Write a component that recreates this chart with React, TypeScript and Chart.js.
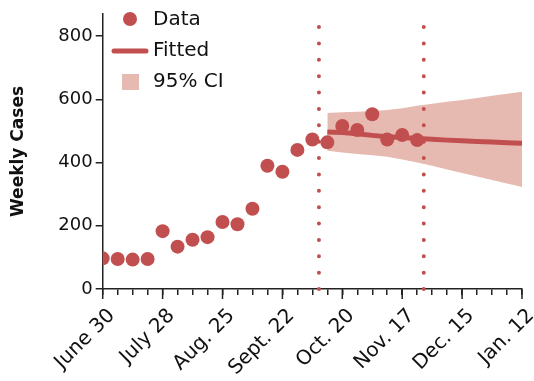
import React, { useEffect, useRef } from "react";
import { Chart, registerables } from "chart.js";

Chart.register(...registerables);

// Week index 0 = June 30; tick labels every four weeks
const tickLabels = ["June 30", "July 28", "Aug. 25", "Sept. 22", "Oct. 20", "Nov. 17", "Dec. 15", "Jan. 12"];

// Observed weekly case counts
const observedWeeks = [0, 1, 2, 3, 4, 5, 6, 7, 8, 9, 10, 11, 12, 13, 14, 15, 16, 17, 18, 19, 20, 21];
const weeklyCases = [97, 95, 93, 95, 183, 134, 156, 164, 212, 205, 254, 390, 371, 440, 473, 464, 516, 503, 553, 473, 487, 471];

// Model fit and its 95% confidence band
const fitWeeks = [15, 16, 17, 18, 19, 20, 21, 22, 23, 24, 25, 26, 27, 28];
const fitted = [497, 495, 491, 486, 482, 479, 476, 474, 471, 469, 467, 465, 463, 461];
const ciUpper = [557, 559, 561, 563, 566, 572, 580, 586, 592, 598, 604, 611, 618, 624];
const ciLower = [437, 432, 427, 423, 418, 410, 400, 390, 378, 367, 356, 345, 334, 323];

// Intervention dates (in weeks from June 30)
const eventWeeks = [14.44, 21.44];

const RED = "#C24F4F";
const BAND = "#E7BAB1";
const FONT = "'DejaVu Sans', sans-serif";

const pts = (xs: number[], ys: number[]) => xs.map((x, i) => ({ x, y: ys[i] }));

const legendPlugin = {
  id: "customLegend",
  afterDraw(chart: any) {
    const ctx = chart.ctx;
    ctx.save();
    ctx.font = `20px ${FONT}`;
    ctx.fillStyle = "#111";
    ctx.textBaseline = "middle";
    ctx.textAlign = "left";
    // Data
    ctx.beginPath();
    ctx.arc(130, 19, 7, 0, Math.PI * 2);
    ctx.fillStyle = RED;
    ctx.fill();
    ctx.fillStyle = "#111";
    ctx.fillText("Data", 153, 20);
    // Fitted
    ctx.beginPath();
    ctx.moveTo(114, 51);
    ctx.lineTo(146, 51);
    ctx.strokeStyle = RED;
    ctx.lineWidth = 5;
    ctx.lineCap = "round";
    ctx.stroke();
    ctx.fillText("Fitted", 153, 51);
    // CI
    ctx.fillStyle = BAND;
    ctx.fillRect(122, 74, 17, 16);
    ctx.fillStyle = "#111";
    ctx.fillText("95% CI", 153, 82);
    ctx.restore();
  },
};

// Longer tick marks under the labelled weeks
const majorTickPlugin = {
  id: "majorTicks",
  afterDraw(chart: any) {
    const xs = chart.scales.x;
    const ctx = chart.ctx;
    const y0 = chart.chartArea.bottom;
    ctx.save();
    ctx.strokeStyle = "#222";
    ctx.lineWidth = 1.5;
    for (let i = 0; i < tickLabels.length; i++) {
      const px = xs.getPixelForValue(i * 4);
      ctx.beginPath();
      ctx.moveTo(px, y0);
      ctx.lineTo(px, y0 + 10);
      ctx.stroke();
    }
    ctx.restore();
  },
};

export default function App() {
  const ref = useRef<HTMLCanvasElement>(null);

  useEffect(() => {
    if (!ref.current) return;
    const eventSets = eventWeeks.map((w) => ({
      type: "line" as const,
      data: [
        { x: w, y: 0 },
        { x: w, y: 880 },
      ],
      borderColor: RED,
      borderWidth: 4,
      borderDash: [0, 16.37],
      borderCapStyle: "round" as const,
      pointRadius: 0,
      fill: false,
      clip: false as any,
    }));

    const chart = new Chart(ref.current, {
      type: "line",
      data: {
        datasets: [
          {
            data: pts(observedWeeks, weeklyCases),
            showLine: false,
            pointRadius: 7,
            pointBackgroundColor: RED,
            pointBorderWidth: 0,
            borderColor: RED,
          },
          {
            data: pts(fitWeeks, fitted),
            borderColor: RED,
            borderWidth: 5,
            pointRadius: 0,
            fill: false,
          },
          ...eventSets,
          {
            data: pts(fitWeeks, ciUpper),
            borderColor: "transparent",
            borderWidth: 0,
            pointRadius: 0,
            backgroundColor: BAND,
            fill: "+1",
          },
          {
            data: pts(fitWeeks, ciLower),
            borderColor: "transparent",
            borderWidth: 0,
            pointRadius: 0,
            fill: false,
          },
        ] as any,
      },
      options: {
        animation: false,
        responsive: false,
        layout: { padding: { top: 14, right: 12, left: 0, bottom: 0 } },
        plugins: { legend: { display: false }, tooltip: { enabled: false } },
        scales: {
          x: {
            type: "linear",
            min: 0,
            max: 28,
            border: { color: "#222", width: 1.5 },
            grid: { drawOnChartArea: false, tickLength: 6, color: "#222", lineWidth: 1.5 },
            ticks: {
              stepSize: 1,
              autoSkip: false,
              minRotation: 45,
              maxRotation: 45,
              padding: 9,
              labelOffset: 9,
              color: "#111",
              font: { family: FONT, size: 20 },
              callback: (v: any) => (Number(v) % 4 === 0 ? tickLabels[Number(v) / 4] : ""),
            },
            afterFit: (s: any) => {
              s.height = 92;
              s.paddingLeft = 0;
              s.paddingRight = 0;
            },
          },
          y: {
            min: 0,
            max: 870,
            border: { color: "#222", width: 1.5 },
            grid: { drawOnChartArea: false, tickLength: 7, color: "#222", lineWidth: 1.5 },
            ticks: {
              stepSize: 200,
              includeBounds: false,
              padding: 3,
              color: "#111",
              font: { family: FONT, size: 18 },
            },
            title: {
              display: true,
              text: "Weekly Cases",
              color: "#111",
              font: { family: FONT, size: 17, weight: "bold" },
              padding: { top: 8, bottom: 0 },
            },
            afterFit: (s: any) => {
              s.width = 102.7;
              s.paddingTop = 0;
              s.paddingBottom = 0;
            },
          },
        },
      },
      plugins: [legendPlugin, majorTickPlugin],
    });
    return () => chart.destroy();
  }, []);

  return (
    <div style={{ position: "absolute", left: 0, top: 0, width: 534, height: 381, background: "#fff" }}>
      <canvas ref={ref} width={534} height={381} />
    </div>
  );
}
